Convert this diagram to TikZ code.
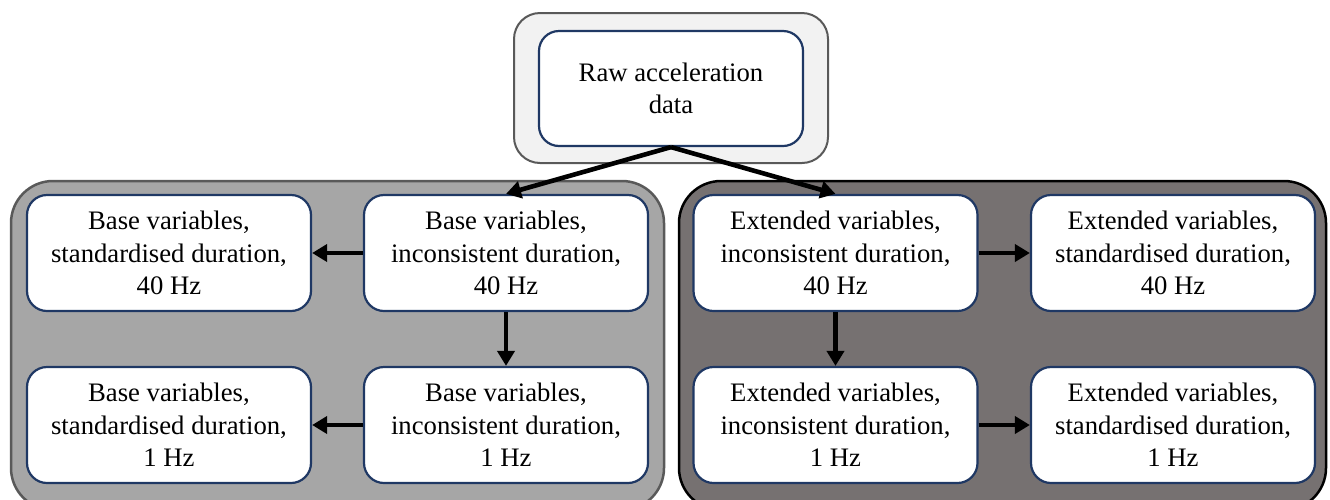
\documentclass[tikz,border=0pt]{standalone}
\usepackage{fontspec}
\setmainfont{Liberation Serif}
\usetikzlibrary{arrows.meta}
\definecolor{navy}{HTML}{1F3864}
\definecolor{grpL}{HTML}{A6A6A6}
\definecolor{grpR}{HTML}{767171}
\definecolor{topfill}{HTML}{F2F2F2}
\definecolor{borderL}{HTML}{595959}
\begin{document}
\begin{tikzpicture}[x=1pt,y=-1pt,
  box/.style={draw=navy, line width=2.2pt, fill=white, rounded corners=20pt,
    minimum width=284pt, minimum height=116pt, align=center,
    font=\fontsize{26.7}{32.3}\selectfont, inner sep=0pt},
  arr/.style={line width=4.6pt, -{Triangle[length=15pt,width=17pt]}},
  group/.style={line width=2.5pt, rounded corners=42pt}]
\useasboundingbox (0,0) rectangle (1330,499);
\begin{scope}
  \clip (0,0) rectangle (1330,499);
  \draw[group, draw=borderL, fill=grpL] (11,181) rectangle (664,510);
  \draw[group, draw=black, fill=grpR] (679,181) rectangle (1326,510);
\end{scope}
\draw[line width=2pt, draw=borderL, fill=topfill, rounded corners=26pt] (514,13) rectangle (828,163);
\node[box, minimum width=264pt, minimum height=115pt] (raw) at (671,88.5) {Raw acceleration\\data};
\node[box] (LA) at (169,253) {Base variables,\\standardised duration,\\40 Hz};
\node[box] (LB) at (506,253) {Base variables,\\inconsistent duration,\\40 Hz};
\node[box] (LC) at (169,425) {Base variables,\\standardised duration,\\1 Hz};
\node[box] (LD) at (506,425) {Base variables,\\inconsistent duration,\\1 Hz};
\node[box] (RA) at (835.5,253) {Extended variables,\\inconsistent duration,\\40 Hz};
\node[box] (RB) at (1173,253) {Extended variables,\\standardised duration,\\40 Hz};
\node[box] (RC) at (835.5,425) {Extended variables,\\inconsistent duration,\\1 Hz};
\node[box] (RD) at (1173,425) {Extended variables,\\standardised duration,\\1 Hz};
\draw[arr] (raw.south) -- (LB.north);
\draw[arr] (raw.south) -- (RA.north);
\draw[arr] (LB.west) -- (LA.east);
\draw[arr] (LB.south) -- (LD.north);
\draw[arr] (LD.west) -- (LC.east);
\draw[arr] (RA.east) -- (RB.west);
\draw[arr] (RA.south) -- (RC.north);
\draw[arr] (RC.east) -- (RD.west);
\end{tikzpicture}
\end{document}
